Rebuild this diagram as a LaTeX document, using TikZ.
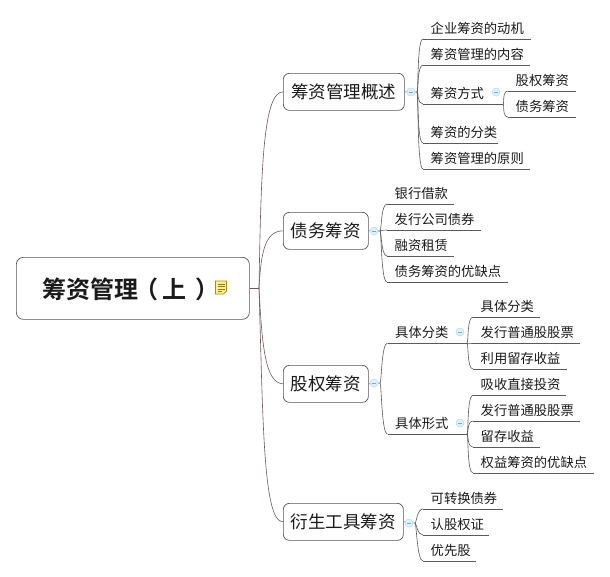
\documentclass[tikz,border=0pt]{standalone}
\usepackage{fontspec}
\setmainfont{Noto Sans CJK SC}
\newfontfamily\boldcjk[BoldFont={Noto Sans CJK SC Bold}]{Noto Sans CJK SC}
\usetikzlibrary{calc}
\definecolor{inkc}{HTML}{1A1A1A}
\definecolor{linec}{HTML}{5A5A5A}
\definecolor{rootline}{HTML}{6E5A5A}
\definecolor{boxline}{HTML}{555555}
\definecolor{knobfill}{HTML}{DDF1FB}
\definecolor{knobline}{HTML}{BBDDEE}
\definecolor{knobmark}{HTML}{7FA8BC}
\definecolor{notefill}{HTML}{FFEE80}
\definecolor{noteline}{HTML}{A88B1A}
\definecolor{notetext}{HTML}{8A7A30}
\tikzset{x=1pt,y=-1pt,
 rootbox/.style={draw=boxline,line width=.7pt,rounded corners=7pt,fill=white,inner sep=0pt,text=inkc},
 topicbox/.style={draw=boxline,line width=.7pt,rounded corners=6pt,fill=white,inner sep=0pt,minimum height=37pt,text=inkc,font=\fontsize{17.5}{20}\selectfont},
 leaf/.style={anchor=south west,inner xsep=0pt,inner ysep=3pt,text height=12pt,text depth=2pt,text=inkc,font=\fontsize{13.3}{15}\selectfont,text width=#1pt,align=left},
 rule/.style={draw=linec,line width=.6pt},
 knob/.style={circle,draw=knobline,fill=knobfill,line width=.6pt,minimum size=8pt,inner sep=0pt},
 mainlink/.style={draw=rootline,line width=.6pt},
}
\newcommand{\Leaf}[5]{% name, x, y, width, text
  \node[leaf={#4}] (#1) at (#2,#3) {\hspace*{7.5pt}#5};
  \draw[rule] (#1.south west) -- (#1.south east);
}
\newcommand{\Branch}[2]{% from, to
  \draw[rule] (#1) .. controls ($(#1)+(1.5,0)$) and ($(#2)+(-6,0)$) .. ($(#2)$);
}
\begin{document}
\begin{tikzpicture}
\useasboundingbox (0,0) rectangle (610,576);
\fill[white] (0,0) rectangle (610,576);

% root
\node[rootbox,anchor=north west,minimum width=233pt,minimum height=62pt] (root) at (16,257) {};
\node[anchor=west,text=inkc,font=\boldcjk\bfseries\fontsize{24}{26}\selectfont,inner sep=0pt] (rootlabel) at (42,289) {筹资管理\hspace{-4pt}（\hspace{4pt}上\hspace{9pt}）};
\coordinate (rootj) at (259,288);

% topics
\node[topicbox,anchor=north west,minimum width=121pt] (t1) at (283,73) {筹资管理概述};
\node[topicbox,anchor=north west,minimum width=85pt] (t2) at (283,212) {债务筹资};
\node[topicbox,anchor=north west,minimum width=85pt] (t3) at (283,365) {股权筹资};
\node[topicbox,anchor=north west,minimum width=120pt] (t4) at (283,503) {衍生工具筹资};

\draw[mainlink] (root.east |- rootj) -- (rootj);
\draw[mainlink] (rootj) .. controls (261,170) and (263,92) .. (t1.west);
\draw[mainlink] (rootj) .. controls (261,255) and (264,231) .. (t2.west);
\draw[mainlink] (rootj) .. controls (262,345) and (265,383) .. (t3.west);
\draw[mainlink] (rootj) .. controls (263,420) and (263,522) .. (t4.west);

% note icon
\path[draw=noteline,fill=notefill,line width=.7pt] (215.5,281) -- (226.5,281) -- (226.5,291) -- (223.5,294) -- (215.5,294) -- cycle;
\draw[notetext,line width=.7pt] (217.5,284) -- (224.5,284) (217.5,286.5) -- (224.5,286.5) (217.5,289) -- (224.5,289) (217.5,291.3) -- (222,291.3);

% topic 1
\coordinate (j1) at (417,92);
\Leaf{a1}{423}{39}{108}{企业筹资的动机}
\Leaf{a2}{423}{65}{107}{筹资管理的内容}
\Leaf{a3}{423}{104}{80}{筹资方式}
\Leaf{a4}{423}{143}{75}{筹资的分类}
\Leaf{a5}{423}{169}{107}{筹资管理的原则}
\foreach \n in {a1,a2,a3,a4,a5}{\Branch{j1}{\n.south west}}
\draw[rule] (t1.east) -- (j1);
\node[knob] (k1) at (411,92) {};
\coordinate (j1b) at (503,104);
\Leaf{b1}{508}{91}{68}{股权筹资}
\Leaf{b2}{508}{117}{68}{债务筹资}
\foreach \n in {b1,b2}{\Branch{j1b}{\n.south west}}
\node[knob] (k1b) at (496,92) {};

% topic 2
\coordinate (j2) at (380,231);
\Leaf{c1}{387}{204}{67}{银行借款}
\Leaf{c2}{387}{230}{94}{发行公司债券}
\Leaf{c3}{387}{256}{67}{融资租赁}
\Leaf{c4}{387}{282}{121}{债务筹资的优缺点}
\foreach \n in {c1,c2,c3,c4}{\Branch{j2}{\n.south west}}
\draw[rule] (t2.east) -- (j2);
\node[knob] (k2) at (374,231) {};

% topic 3
\coordinate (j3) at (380,383);
\Leaf{d1}{387.5}{343}{79.5}{具体分类}
\Leaf{d2}{387.5}{434}{79.5}{具体形式}
\foreach \n in {d1,d2}{\Branch{j3}{\n.south west}}
\draw[rule] (t3.east) -- (j3);
\node[knob] (k3) at (374,383) {};
\node[knob] (k3a) at (460,332) {};
\node[knob] (k3b) at (460,423) {};
\coordinate (j3a) at (467,343);
\Leaf{e1}{473}{317}{67}{具体分类}
\Leaf{e2}{473}{343}{107}{发行普通股股票}
\Leaf{e3}{473}{369}{94}{利用留存收益}
\foreach \n in {e1,e2,e3}{\Branch{j3a}{\n.south west}}
\coordinate (j3b) at (467,434);
\Leaf{f1}{473}{395}{93}{吸收直接投资}
\Leaf{f2}{473}{421}{107}{发行普通股股票}
\Leaf{f3}{473}{447}{67}{留存收益}
\Leaf{f4}{473}{473}{121}{权益筹资的优缺点}
\foreach \n in {f1,f2,f3,f4}{\Branch{j3b}{\n.south west}}

% topic 4
\coordinate (j4) at (415,523);
\Leaf{g1}{423}{509}{80}{可转换债券}
\Leaf{g2}{423}{535}{66}{认股权证}
\Leaf{g3}{423}{561}{53}{优先股}
\foreach \n in {g1,g2,g3}{\Branch{j4}{\n.south west}}
\draw[rule] (t4.east) -- (j4);
\node[knob] (k4) at (409,523) {};

% knob marks
\foreach \k in {k1,k1b,k2,k3,k3a,k3b,k4}{\draw[knobmark,line width=.6pt] ($(\k)+(-2.2,0)$) -- ($(\k)+(2.2,0)$);}
\end{tikzpicture}
\end{document}
